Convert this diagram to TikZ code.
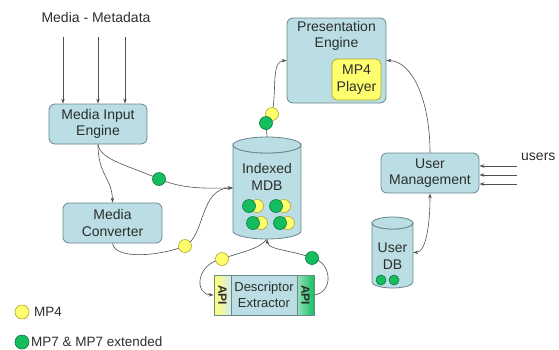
\documentclass[tikz,border=0pt]{standalone}
\usepackage{fontspec}
\setmainfont{Liberation Sans}
\usetikzlibrary{arrows.meta}
\definecolor{boxfill}{RGB}{186,222,228}
\definecolor{boxline}{RGB}{105,135,140}
\definecolor{yfill}{RGB}{255,255,110}
\definecolor{yline}{RGB}{175,165,50}
\definecolor{gfill}{RGB}{20,190,95}
\definecolor{gline}{RGB}{10,120,60}
\definecolor{txt}{RGB}{45,45,45}
\definecolor{conncol}{RGB}{80,80,80}
\tikzset{
  lbl/.style={font=\fontsize{14}{16.5}\selectfont, text=txt, align=center, inner sep=0},
  box/.style={draw=boxline, fill=boxfill, line width=0.8pt, rounded corners=6pt, lbl},
  ybox/.style={draw=yline, fill=yfill, line width=0.8pt, rounded corners=5pt, lbl},
  conn/.style={draw=conncol, line width=0.6pt},
  arr/.style={conn, -{Stealth[length=5pt,width=3.5pt]}},
  darr/.style={conn, {Stealth[length=5pt,width=3.5pt]}-{Stealth[length=5pt,width=3.5pt]}},
  ydot/.style={circle, draw=yline, fill=yfill, line width=0.6pt, inner sep=0, minimum size=13pt},
  gdot/.style={circle, draw=gline, fill=gfill, line width=0.6pt, inner sep=0, minimum size=13pt},
  sydot/.style={ydot, minimum size=10pt},
  sgdot/.style={gdot, minimum size=10pt},
}
\begin{document}
\begin{tikzpicture}[x=1pt,y=-1pt]
\useasboundingbox (0,0) rectangle (559,349);

% title
\node[lbl] (mm) at (96,17) {Media - Metadata};
\coordinate (m1) at (63,37);
\coordinate (m2) at (98,37);
\coordinate (m3) at (125,37);

% boxes
\node[box, minimum width=98pt, minimum height=40pt] (mie) at (98,124) {Media Input\\Engine};
\node[box, minimum width=99pt, minimum height=40pt] (mc) at (112.5,223) {Media\\Converter};
\node[box, minimum width=99pt, minimum height=85pt] (pe) at (336.5,60.5) {};
\node[lbl, anchor=north] (pet) at (336.5,21) {Presentation\\Engine};
\node[ybox, minimum width=49pt, minimum height=41pt] (mp4) at (356.5,79.5) {MP4\\Player};
\node[box, minimum width=98pt, minimum height=40pt] (um) at (430,173) {User\\Management};
\node[lbl, anchor=west] (users) at (521,157) {users};
\coordinate (u1) at (517,166);
\coordinate (u2) at (517,175);
\coordinate (u3) at (517,184);

% Indexed MDB cylinder
\node[inner sep=0, minimum width=68pt, minimum height=102pt] (mdb) at (267,188) {};
\path[draw=boxline, fill=boxfill, line width=0.8pt]
  (233,145) -- (233,231) arc[start angle=180, end angle=0, x radius=34, y radius=8]
  -- (301,145) arc[start angle=0, end angle=180, x radius=34, y radius=8] -- cycle;
\draw[boxline, fill=boxfill, line width=0.8pt] (267,145) ellipse[x radius=34, y radius=8];
\node[lbl] (mdbt) at (267,177) {Indexed\\MDB};

% User DB cylinder
\node[inner sep=0, minimum width=41pt, minimum height=71pt] (udb) at (392.5,252.5) {};
\path[draw=boxline, fill=boxfill, line width=0.8pt]
  (372,223) -- (372,282) arc[start angle=180, end angle=0, x radius=20.5, y radius=6]
  -- (413,223) arc[start angle=0, end angle=180, x radius=20.5, y radius=6] -- cycle;
\draw[boxline, fill=boxfill, line width=0.8pt] (392.5,223) ellipse[x radius=20.5, y radius=6];
\node[lbl] (udbt) at (392.5,256) {User\\DB};

% Descriptor extractor
\node[draw=boxline, fill=boxfill, line width=0.8pt, minimum width=66pt, minimum height=40pt, inner sep=0] (de) at (264,295) {};
\node[lbl, font=\fontsize{13}{15.5}\selectfont] (det) at (264,295) {Descriptor\\Extractor};
\node[draw=boxline, left color=yfill, right color=boxfill!60!white, line width=0.8pt, minimum width=17pt, minimum height=40pt, inner sep=0] (apil) at (222.5,295) {};
\node[lbl, font=\bfseries\fontsize{12}{14}\selectfont, rotate=-90] (apilt) at (222.5,295) {API};
\node[draw=boxline, left color=boxfill!40!gfill!60!white, right color=gfill, line width=0.8pt, minimum width=17pt, minimum height=40pt, inner sep=0] (apir) at (305.5,295) {};
\node[lbl, font=\bfseries\fontsize{12}{14}\selectfont, rotate=-90] (apirt) at (305.5,295) {API};

% dot positions
\coordinate (pg1) at (159,179);
\coordinate (py1) at (185,246);
\coordinate (pg2) at (266,123);
\coordinate (py2) at (272,114);
\coordinate (py3) at (222,259);
\coordinate (pg3) at (312,258);

% connectors
\draw[arr] (m1) -- (m1 |- mie.north);
\draw[arr] (m2) -- (m2 |- mie.north);
\draw[arr] (m3) -- (m3 |- mie.north);
\draw[arr] (mie.south) .. controls (98,175) and (112,178) .. (mc.north);
\draw[conn] (mie.south) .. controls (100,160) and (130,166) .. (pg1);
\draw[arr] (pg1) .. controls (185,190) and (210,188) .. (mdb.west);
\draw[conn] (mc.south) .. controls (115,260) and (160,256) .. (py1);
\draw[arr] (py1) .. controls (205,236) and (200,188) .. (mdb.west);
\draw[conn] (mdb.north) -- (pg2) -- (py2);
\draw[arr] (py2) .. controls (277,90) and (271,61) .. (pe.west);
\draw[arr] (um.north) .. controls (430,100) and (412,61) .. (pe.east);
\draw[darr] (um.south) .. controls (430,225) and (426,252) .. (udb.east);
\draw[arr] (u1) -- (u1 -| um.east);
\draw[arr] (u2) -- (u2 -| um.east);
\draw[arr] (u3) -- (u3 -| um.east);
\draw[conn] (mdb.south) .. controls (258,250) and (240,252) .. (py3);
\draw[arr] (py3) .. controls (196,264) and (194,294) .. (apil.west);
\draw[conn] (apir.east) .. controls (334,292) and (332,262) .. (pg3);
\draw[arr] (pg3) .. controls (292,250) and (268,250) .. (mdb.south);

% dots on connectors
\node[gdot] (g1) at (pg1) {};
\node[ydot] (y1) at (py1) {};
\node[ydot] (y2) at (py2) {};
\node[gdot] (g2) at (pg2) {};
\node[ydot] (y3) at (py3) {};
\node[gdot] (g3) at (pg3) {};

% dots in MDB
\node[ydot] (my1) at (257,206) {};
\node[gdot] (mg1) at (249,206) {};
\node[ydot] (my2) at (284,206) {};
\node[gdot] (mg2) at (276,206) {};
\node[ydot] (my3) at (261,223) {};
\node[gdot] (mg3) at (253,223) {};
\node[ydot] (my4) at (288,223) {};
\node[gdot] (mg4) at (280,223) {};

% dots in User DB
\node[sgdot] (ug1) at (381,280) {};
\node[sgdot] (ug2) at (394,280) {};

% legend
\node[ydot, minimum size=14pt] (ly) at (22,312) {};
\node[lbl, anchor=west, font=\fontsize{13.5}{16}\selectfont] (lyt) at (34,312) {MP4};
\node[gdot, minimum size=14pt] (lg) at (22,342) {};
\node[lbl, anchor=west, font=\fontsize{13.5}{16}\selectfont] (lgt) at (31,342) {MP7 \& MP7 extended};
\end{tikzpicture}
\end{document}
